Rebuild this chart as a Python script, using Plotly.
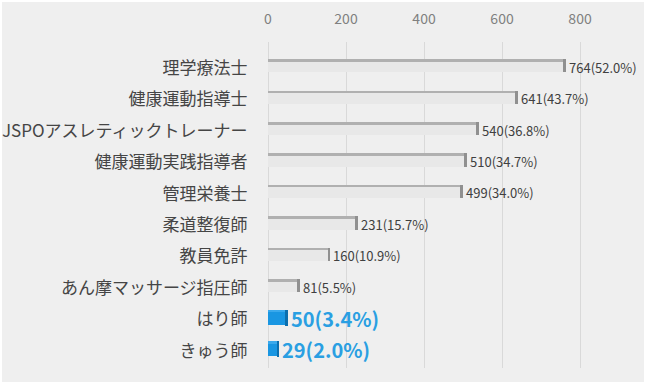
import plotly.graph_objects as go

categories = ["理学療法士", "健康運動指導士", "JSPOアスレティックトレーナー", "健康運動実践指導者",
              "管理栄養士", "柔道整復師", "教員免許", "あん摩マッサージ指圧師", "はり師", "きゅう師"]
values = [764, 641, 540, 510, 499, 231, 160, 81, 50, 29]
percents = [52.0, 43.7, 36.8, 34.7, 34.0, 15.7, 10.9, 5.5, 3.4, 2.0]
highlight = [False] * 8 + [True] * 2
tick_vals = [0, 200, 400, 600, 800]

labels = [(f"<b>{v}({p:.1f}%)</b>" if h else f"{v}({p:.1f}%)")
          for v, p, h in zip(values, percents, highlight)]

face_col = ["#1996e2" if h else "#e8e8e8" for h in highlight]
top_col = ["#3aa9ec" if h else "#b0b0b0" for h in highlight]
cap_col = ["#0c6fae" if h else "#909090" for h in highlight]
txt_col = ["#2a9fe2" if h else "#404040" for h in highlight]
txt_size = [20 if h else 13 for h in highlight]
face_w = [0.42 if h else 0.34 for h in highlight]
face_off = [-0.24 if h else -0.2 for h in highlight]
top_w = [0.08 if h else 0.08 for h in highlight]
top_off = [-0.3 if h else -0.28 for h in highlight]
cap_units = 7

fig = go.Figure()
fig.add_trace(go.Bar(
    y=categories, x=values, orientation="h",
    marker=dict(color=face_col, line=dict(width=0)),
    width=face_w, offset=face_off,
    text=labels, textposition="outside", cliponaxis=False, constraintext="none",
    textfont=dict(color=txt_col, size=txt_size, family="Noto Sans CJK JP"),
    hoverinfo="skip", showlegend=False,
))
fig.add_trace(go.Bar(
    y=categories, x=values, orientation="h",
    marker=dict(color=top_col, line=dict(width=0)),
    width=top_w, offset=top_off,
    hoverinfo="skip", showlegend=False,
))
fig.add_trace(go.Bar(
    y=categories, x=[cap_units] * len(values), base=[v - cap_units for v in values],
    orientation="h",
    marker=dict(color=cap_col, line=dict(width=0)),
    width=[w + 0.08 for w in face_w], offset=top_off,
    hoverinfo="skip", showlegend=False,
))

L, R, T, B = 268, 6, 42, 21
W, H = 650, 389
pw, ph = W - L - R, H - T - B

fig.add_shape(type="rect", xref="paper", yref="paper", layer="below",
              x0=(2 - L) / pw, x1=(644 - L) / pw,
              y0=(H - B - 382) / ph, y1=(H - B - 2) / ph,
              fillcolor="#efefef", line=dict(width=0))

fig.update_layout(
    width=W, height=H, margin=dict(l=L, r=R, t=T, b=B, autoexpand=False),
    barmode="overlay", bargap=0, hovermode=False,
    paper_bgcolor="white", plot_bgcolor="rgba(0,0,0,0)",
    font=dict(family="Noto Sans CJK JP", color="#404040"),
    xaxis=dict(side="top", range=[0, 964], tickvals=tick_vals, automargin=False,
               showgrid=True, gridcolor="#d9d9d9", gridwidth=1,
               zeroline=True, zerolinecolor="#d9d9d9", zerolinewidth=1,
               ticks="outside", ticklen=11, tickcolor="rgba(0,0,0,0)",
               tickfont=dict(size=14, color="#808080", family="Noto Sans CJK JP"),
               showline=False),
    yaxis=dict(type="category", range=[9.55, -0.83], automargin=False,
               categoryorder="array", categoryarray=categories,
               showgrid=False, zeroline=False, showline=False,
               ticks="outside", ticklen=16, tickcolor="rgba(0,0,0,0)",
               tickfont=dict(size=17, color="#454545", family="Noto Sans CJK JP")),
)

fig.write_html("out.html", config={"displayModeBar": False},
               post_script="document.body.style.margin='0';")
